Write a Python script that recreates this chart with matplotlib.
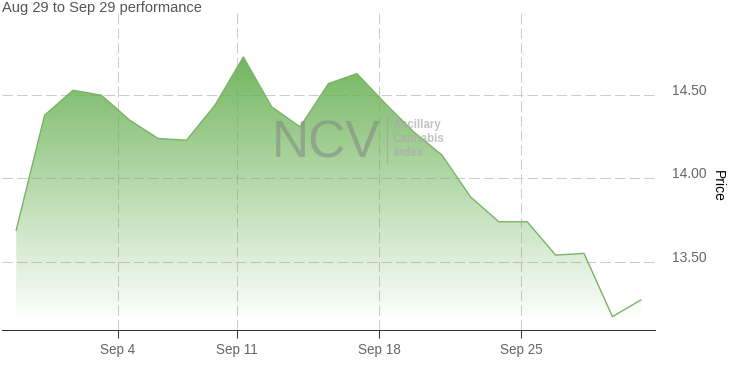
import numpy as np
import matplotlib.pyplot as plt
from matplotlib.lines import Line2D
from matplotlib.patches import Polygon

plt.rcParams['font.family'] = ['Liberation Sans', 'DejaVu Sans']

# trading days, Aug 29 - Sep 29 2017
dates = ['2017-08-29', '2017-08-30', '2017-08-31', '2017-09-01',
         '2017-09-05', '2017-09-06', '2017-09-07', '2017-09-08',
         '2017-09-11', '2017-09-12', '2017-09-13', '2017-09-14', '2017-09-15',
         '2017-09-18', '2017-09-19', '2017-09-20', '2017-09-21', '2017-09-22',
         '2017-09-25', '2017-09-26', '2017-09-27', '2017-09-28', '2017-09-29']
prices = [13.69, 14.38, 14.53, 14.50,
          14.35, 14.24, 14.23, 14.44,
          14.73, 14.43, 14.31, 14.57, 14.63,
          14.45, 14.28, 14.14, 13.89, 13.74,
          13.74, 13.54, 13.55, 13.17, 13.27]

tick_dates = ['2017-09-04', '2017-09-11', '2017-09-18', '2017-09-25']
tick_labels = ['Sep 4', 'Sep 11', 'Sep 18', 'Sep 25']
y_ticks = [13.5, 14.0, 14.5]
y_tick_labels = ['13.50', '14.00', '14.50']

ymin, ymax = 13.09, 15.0

# ordinal x axis: points evenly spaced, date ticks interpolated between them
idx = np.arange(len(dates))
t = np.array([d + 'T16:00' for d in dates], dtype='datetime64[h]').astype(float)
tt = np.array(tick_dates, dtype='datetime64[h]').astype(float)
tick_pos = np.interp(tt, t, idx)

fig = plt.figure(figsize=(7.36, 3.65), dpi=100)
ax = fig.add_axes([2 / 736, 35 / 365, 653 / 736, 318 / 365])
ax.set_axisbelow(True)

# gradient area under the line
verts = [(idx[0], ymin)] + list(zip(idx, prices)) + [(idx[-1], ymin)]
poly = Polygon(verts, closed=True, facecolor='none', edgecolor='none')
ax.add_patch(poly)
grad = np.zeros((256, 1, 4))
grad[:, 0, 0] = 0.42
grad[:, 0, 1] = 0.70
grad[:, 0, 2] = 0.34
grad[:, 0, 3] = np.linspace(0.95, 0.0, 256)
im = ax.imshow(grad, extent=[-0.5, len(dates) - 0.5, ymin + 0.05, max(prices)],
               aspect='auto', origin='upper', zorder=1)
im.set_clip_path(poly)
ax.plot(idx, prices, color='#78b466', lw=1, zorder=2)

ax.set_xlim(-0.5, len(dates) - 0.5)
ax.set_ylim(ymin, ymax)

ax.set_xticks(tick_pos, tick_labels)
ax.tick_params(axis='x', length=6, width=0.75, color='#333333',
               labelcolor='#666666', labelsize=9.75, pad=3.5)
ax.yaxis.tick_right()
ax.set_yticks(y_ticks, y_tick_labels)
ax.tick_params(axis='y', length=0, pad=12, labelcolor='#666666', labelsize=10)
for lab in ax.get_yticklabels():
    lab.set_va('baseline')

for s in ['top', 'left', 'right']:
    ax.spines[s].set_visible(False)
ax.spines['bottom'].set_color('#333333')
ax.spines['bottom'].set_linewidth(0.75)

ax.grid(True, color='#cccccc', lw=0.75, linestyle=(0, (10, 4)))

fig.text(2 / 736, 1 - 8 / 365, 'Aug 29 to Sep 29 performance',
         va='center', ha='left', fontsize=10.5, color='#555555')
fig.text(718 / 736, 0.49, 'Price', rotation=270, va='center', ha='center',
         fontsize=10, color='#000000')

# watermark
fig.text(325.5 / 736, 1 - 157 / 365, 'NCV', ha='center', va='baseline',
         fontsize=37, color='#808080', alpha=0.5)
fig.add_artist(Line2D([386.7 / 736, 386.7 / 736], [1 - 115 / 365, 1 - 163 / 365],
                      color='#999999', lw=0.8, alpha=0.5))
fig.text(393 / 736, 1 - 139 / 365, 'Ancillary\nCannabis\nIndex', ha='left',
         va='center', fontsize=8.3, fontweight='bold', color='#aaaaaa',
         alpha=0.7, linespacing=1.17)

fig.savefig('out.png', dpi=100)
